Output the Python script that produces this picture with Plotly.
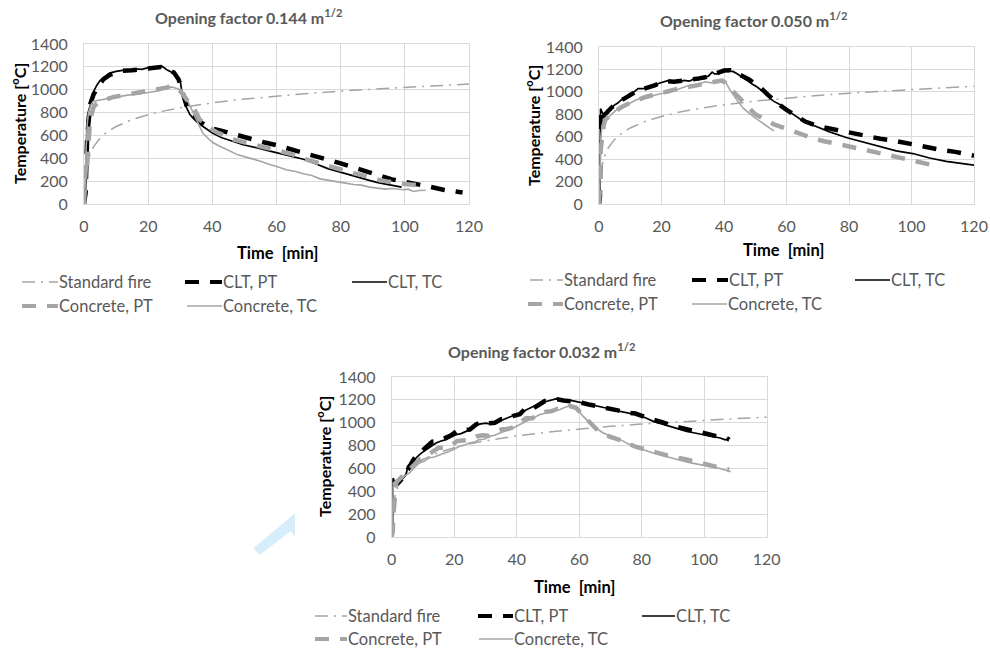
import plotly.graph_objects as go

# ---------------- data ----------------
std_t = [0, 1, 2, 3, 5, 7, 10, 15, 20, 25, 30, 40, 50, 60, 70, 80, 90, 100, 110, 120]
std_T = [20, 349, 445, 502, 576, 626, 678, 739, 781, 815, 842, 885, 918, 945, 968, 988, 1006, 1020, 1035, 1049]

# Opening factor 0.144
a_clt_tc_t = [0, 0.3, 0.45, 0.6, 0.9, 1.2, 1.5, 2, 3, 4, 5, 6.5, 8, 10, 12, 14, 16, 18, 19, 20.5, 22.5, 24.5, 25.8,
              27.8, 29.4, 30, 30.5, 31.5, 33, 35, 37, 40, 43, 46.5, 48, 49.6, 51, 52.8, 55.9, 58, 61, 63, 66, 68.4,
              71, 73.6, 76, 78.8, 81, 84, 87, 89.2, 92, 94.4, 97, 99]
a_clt_tc_T = [0, 130, 60, 400, 700, 790, 830, 870, 985, 1040, 1080, 1115, 1145, 1160, 1170, 1172, 1182, 1178, 1185,
              1195, 1200, 1202, 1175, 1146, 1103, 1073, 985, 870, 782, 723, 680, 621, 580, 548, 530, 519, 510, 500,
              478, 462, 440, 430, 410, 392, 365, 335, 310, 288, 270, 243, 220, 204, 185, 170, 155, 148]
a_clt_pt_t = [0, 0.5, 1, 1.5, 2, 3, 4, 5, 6, 8, 10, 12, 15, 18, 20, 22, 24, 26, 28, 29.5, 30.5, 32, 34, 36, 38, 40,
              43, 46, 50, 53, 56, 60, 65, 68, 72, 76, 80, 84, 88, 92, 96, 100, 104, 108, 112, 116, 118]
a_clt_pt_T = [0, 100, 600, 800, 880, 960, 1010, 1050, 1090, 1130, 1145, 1165, 1170, 1178, 1190, 1195, 1198, 1180,
              1150, 1090, 1000, 860, 770, 720, 690, 660, 640, 615, 580, 565, 540, 515, 475, 455, 420, 395, 355, 320,
              280, 250, 215, 190, 165, 150, 125, 108, 100]
a_con_pt_t = [0, 0.3, 0.6, 0.9, 1.3, 1.8, 2.4, 3, 4, 5, 7, 9, 12, 14, 17, 19.5, 22, 24, 26, 27, 28, 29, 30, 31, 32,
              33, 34, 35, 36, 38, 40, 42, 44, 46.5, 50, 53, 56, 59, 62, 65, 68, 71, 74, 77, 80, 84, 87, 89, 92,
              94.4, 97, 100, 104]
a_con_pt_T = [0, 150, 350, 300, 500, 700, 790, 850, 880, 895, 915, 935, 950, 965, 980, 995, 1005, 1015, 1020, 1035,
              1030, 1015, 990, 955, 920, 885, 850, 800, 740, 690, 650, 620, 595, 565, 540, 520, 500, 475, 455, 435,
              400, 375, 345, 320, 300, 270, 250, 230, 210, 198, 185, 175, 165]
a_con_tc_t = [0, 0.3, 0.6, 1, 1.4, 2, 2.9, 4, 6, 8, 10, 12, 14, 16, 18, 20, 22, 24, 25, 26, 27, 28, 29, 30, 31, 32,
              33, 34, 35, 36, 37, 38.5, 40, 42, 43.5, 45, 46.5, 48, 50.5, 52, 55, 57, 59, 61, 63, 66, 68.4, 71,
              73.6, 76, 78.8, 81, 84, 86.5, 89, 91, 94, 96, 99.5, 101, 102.7, 104.5, 106.5]
a_con_tc_T = [0, 100, 450, 700, 800, 860, 900, 905, 920, 925, 935, 945, 955, 958, 965, 975, 985, 995, 1010, 1005,
              1025, 1020, 1010, 1000, 955, 920, 860, 800, 730, 680, 620, 580, 540, 510, 490, 470, 450, 430, 410,
              400, 375, 355, 340, 320, 300, 285, 265, 250, 220, 210, 195, 185, 170, 165, 148, 140, 130, 135, 125,
              130, 110, 118, 120]

# Opening factor 0.050
b_clt_tc_t = [0, 0.3, 0.5, 0.8, 1.2, 1.6, 2.7, 3.5, 4.8, 6, 6.9, 8, 9.1, 10, 11.2, 12.5, 14.4, 16, 17.6, 19, 20.8,
              22, 24, 25.5, 27.2, 29, 30.4, 32, 33.5, 35, 36.2, 37, 37.8, 38.5, 39.4, 41, 42.1, 43, 44.2, 46, 47.4,
              49, 50.6, 52.7, 54.8, 56, 58, 61, 64.2, 68.5, 73.8, 79.1, 84.5, 89.8, 95.1, 100.4, 105.8, 111.1,
              117.5, 120]
b_clt_tc_T = [0, 50, 850, 830, 790, 780, 820, 840, 880, 900, 924, 940, 969, 985, 999, 1030, 1028, 1040, 1049, 1075,
              1087, 1100, 1087, 1090, 1102, 1095, 1117, 1110, 1132, 1140, 1176, 1160, 1161, 1180, 1191, 1195, 1185,
              1180, 1161, 1130, 1102, 1070, 1043, 999, 939, 915, 885, 821, 761, 702, 643, 593, 554, 516, 474, 450,
              410, 380, 358, 347]
b_clt_pt_t = [0, 0.3, 0.5, 1, 1.5, 2.5, 4, 6, 8, 10, 12, 14, 16, 18, 20, 22, 24, 26, 28, 30, 32, 34, 36, 38, 40,
              42, 44, 46, 48, 50, 52, 54, 56, 58, 60, 63, 66, 70, 74, 78, 82, 86, 90, 94, 98, 102, 106, 110, 114,
              118, 120]
b_clt_pt_T = [0, 60, 840, 800, 790, 815, 860, 905, 940, 975, 1005, 1025, 1040, 1060, 1085, 1095, 1090, 1095, 1100,
              1110, 1120, 1130, 1150, 1175, 1190, 1192, 1170, 1140, 1110, 1070, 1030, 975, 925, 880, 840, 785, 735,
              695, 672, 652, 622, 602, 582, 567, 545, 515, 500, 480, 465, 440, 430]
b_con_pt_t = [0, 0.3, 0.6, 1, 1.5, 2, 3, 4.8, 7, 9, 12, 14.4, 17, 19.7, 22, 25, 28, 30.4, 33, 35.7, 38, 39.4,
              40.5, 42, 44, 46, 48, 50, 52, 54, 56, 58, 60, 64, 68, 72, 76, 80, 84, 88, 92, 96, 100, 104, 107]
b_con_pt_T = [0, 150, 500, 600, 700, 750, 780, 820, 860, 890, 920, 950, 970, 990, 1010, 1025, 1040, 1055, 1070,
              1085, 1095, 1100, 1080, 1030, 970, 910, 850, 800, 770, 735, 710, 690, 670, 625, 590, 560, 540, 510,
              490, 465, 440, 415, 395, 370, 345]
b_con_tc_t = [0, 0.3, 0.6, 1, 1.5, 2.5, 4, 6, 8, 10, 12, 14, 16, 18, 20, 22, 24, 26, 28, 30, 32, 34, 36, 38, 39.5,
              40.5, 42, 44.2, 46.3, 49.5, 52.7, 55.9]
b_con_tc_T = [0, 200, 600, 700, 720, 760, 800, 850, 880, 900, 930, 945, 960, 975, 985, 990, 1010, 1030, 1050,
              1060, 1070, 1090, 1080, 1100, 1105, 1087, 1013, 924, 850, 776, 717, 652]

# Opening factor 0.032
c_clt_tc_t = [0, 0.3, 0.5, 0.85, 1.5, 2.5, 3.5, 4.6, 5.1, 6.7, 8.9, 11, 12.5, 14.2, 15.8, 17.4, 19, 20.6, 22.2,
              23.8, 25.4, 27, 28.6, 30.2, 31.8, 33.4, 35, 36.6, 38.2, 39.8, 41.4, 43, 44.6, 46.2, 47.8, 49.4, 51,
              52.5, 54, 55.8, 57.4, 59, 62.4, 65, 67.7, 70.4, 73.1, 75.7, 78.4, 81, 83.7, 86.4, 89.1, 91.8, 94.4,
              97, 99.7, 102.4, 105.1, 106.7, 108.3]
c_clt_tc_T = [0, 100, 517, 459, 470, 488, 510, 546, 619, 663, 721, 764, 790, 823, 840, 852, 875, 895, 905, 924, 955,
              983, 990, 997, 985, 1012, 1020, 1041, 1055, 1070, 1090, 1113, 1135, 1157, 1175, 1186, 1195, 1209,
              1200, 1192, 1195, 1186, 1163, 1150, 1134, 1118, 1099, 1085, 1070, 1045, 1012, 990, 968, 945, 924, 910,
              895, 880, 866, 850, 866]
c_clt_pt_t = [0, 0.5, 1, 2, 3, 5, 7, 9, 11, 13, 15, 17, 19, 21, 23, 25, 27, 29, 31, 33, 35, 37, 39, 41, 43, 45, 47,
              49, 51, 53, 55, 57, 60, 63, 66, 69, 72, 75, 78, 81, 84, 87, 90, 93, 96, 99, 102, 105, 108]
c_clt_pt_T = [0, 300, 480, 470, 500, 580, 680, 735, 780, 835, 840, 860, 890, 930, 935, 940, 985, 1010, 995, 1000,
              1030, 1030, 1060, 1075, 1130, 1120, 1155, 1190, 1195, 1205, 1195, 1190, 1180, 1160, 1145, 1125, 1110,
              1090, 1080, 1050, 1030, 1000, 970, 955, 930, 915, 895, 870, 855]
c_con_pt_t = [0, 0.3, 0.7, 1, 1.5, 3, 5, 7, 9, 11, 13, 15, 17, 19, 21, 23, 25, 27, 29, 31, 33, 35, 37, 39, 41, 43,
              45, 47, 49, 51, 53, 55, 57, 59, 61, 63, 66, 70, 74, 78, 82, 86, 90, 94, 98, 102, 106, 108]
c_con_pt_T = [0, 50, 250, 330, 480, 520, 570, 630, 680, 710, 740, 780, 780, 800, 840, 845, 850, 880, 890, 885, 920,
              940, 945, 960, 1000, 1040, 1040, 1075, 1095, 1100, 1120, 1120, 1145, 1130, 1070, 1010, 930, 875, 840,
              790, 760, 720, 700, 680, 650, 620, 600, 590]
c_con_tc_t = [0, 0.3, 0.5, 1.4, 3, 4.3, 5.7, 7.3, 8.9, 10.5, 12, 13.6, 15.3, 16.9, 18.5, 20.1, 21.7, 23.3, 24.9,
              26.5, 28, 29.6, 31.3, 32.9, 34.5, 36.1, 37.7, 39.3, 40.9, 42.5, 44, 45.6, 47.3, 48.9, 50.5, 52.1,
              53.7, 55.5, 57.4, 59.2, 61.3, 64.5, 67.7, 70.4, 73.1, 75.7, 78.4, 81, 83.7, 86.4, 89.1, 91.8, 94.4,
              97, 99.7, 102.4, 105.1, 108.5]
c_con_tc_T = [0, 150, 474, 488, 517, 540, 561, 610, 648, 665, 692, 700, 715, 735, 750, 770, 794, 805, 823, 830, 852,
              855, 881, 890, 910, 925, 939, 960, 983, 1000, 1026, 1045, 1070, 1080, 1099, 1105, 1113, 1135, 1151,
              1128, 1055, 968, 910, 880, 852, 815, 785, 760, 735, 715, 692, 675, 657, 642, 628, 612, 599, 570]

titles = ["Opening factor 0.144 m<sup>1/2</sup>", "Opening factor 0.050 m<sup>1/2</sup>",
          "Opening factor 0.032 m<sup>1/2</sup>"]
series_names = ["Standard fire", "CLT, PT", "CLT, TC", "Concrete, PT", "Concrete, TC"]
x_ticks = [0, 20, 40, 60, 80, 100, 120]
y_ticks = [0, 200, 400, 600, 800, 1000, 1200, 1400]

# ---------------- styling ----------------
W, H = 990, 649
FONT = "Lato"
GREY = "#a5a5a5"
TXT = "#595959"


def px(x):
    return x / W


def py(y):
    return 1 - y / H


styles = {
    "Standard fire": dict(color=GREY, width=1.5, dash="13px,6px,2px,6px"),
    "CLT, PT": dict(color="black", width=4.5, dash="14px,11px"),
    "CLT, TC": dict(color="black", width=1.7, dash="solid"),
    "Concrete, PT": dict(color=GREY, width=4.5, dash="14px,11px"),
    "Concrete, TC": dict(color=GREY, width=1.6, dash="solid"),
}

charts = [
    dict(data=[(std_t, std_T), (a_clt_pt_t, a_clt_pt_T), (a_clt_tc_t, a_clt_tc_T),
               (a_con_pt_t, a_con_pt_T), (a_con_tc_t, a_con_tc_T)],
         xdom=(84, 469), ydom=(44, 204), title=(248, 17), xt=(277, 253), yt=(18, 124),
         leg=[(22, 58, 185, 222, 352, 387, 282), (22, 58, 187, 222, None, None, 306)]),
    dict(data=[(std_t, std_T), (b_clt_pt_t, b_clt_pt_T), (b_clt_tc_t, b_clt_tc_T),
               (b_con_pt_t, b_con_pt_T), (b_con_tc_t, b_con_tc_T)],
         xdom=(599, 974), ydom=(47, 204), title=(753, 20), xt=(783, 250), yt=(532, 126),
         leg=[(530, 563, 692, 728, 855, 890, 280), (528, 563, 692, 727, None, None, 304)]),
    dict(data=[(std_t, std_T), (c_clt_pt_t, c_clt_pt_T), (c_clt_tc_t, c_clt_tc_T),
               (c_con_pt_t, c_con_pt_T), (c_con_tc_t, c_con_tc_T)],
         xdom=(391.7, 766.7), ydom=(377, 537), title=(541, 350), xt=(574, 587), yt=(323, 457),
         leg=[(315, 347, 478, 513, 642, 675, 616), (315, 347, 479, 513, None, None, 639)]),
]

fig = go.Figure()
annotations = []
shapes = []

for i, ch in enumerate(charts):
    sfx = "" if i == 0 else str(i + 1)
    for name, (tx, ty) in zip(series_names, ch["data"]):
        st = styles[name]
        fig.add_trace(go.Scatter(x=tx, y=ty, mode="lines", name=name, showlegend=False,
                                 line=dict(color=st["color"], width=st["width"], dash=st["dash"]),
                                 xaxis="x" + sfx, yaxis="y" + sfx, hoverinfo="skip"))
    axcommon = dict(showgrid=True, gridcolor="#d9d9d9", gridwidth=1, showline=True, linecolor="#d9d9d9",
                    linewidth=1, mirror=True, zeroline=False, ticks="",
                    tickfont=dict(family=FONT, size=16, color=TXT))
    fig.update_layout(**{
        "xaxis" + sfx: dict(domain=[px(ch["xdom"][0]), px(ch["xdom"][1])], range=[0, 120],
                            tickvals=x_ticks, anchor="y" + sfx, ticklabelstandoff=8, **axcommon),
        "yaxis" + sfx: dict(domain=[py(ch["ydom"][1]), py(ch["ydom"][0])], range=[0, 1400],
                            tickvals=y_ticks, anchor="x" + sfx, ticklabelstandoff=12, **axcommon),
    })
    annotations.append(dict(text="<b>" + titles[i] + "</b>", x=px(ch["title"][0]), y=py(ch["title"][1]),
                            xref="paper", yref="paper", showarrow=False, xanchor="center", yanchor="middle",
                            font=dict(family=FONT, size=16, color=TXT)))
    annotations.append(dict(text="<b>Time \u00a0[min]</b>", x=px(ch["xt"][0]), y=py(ch["xt"][1]),
                            xref="paper", yref="paper", showarrow=False, xanchor="center", yanchor="middle",
                            font=dict(family=FONT, size=16.5, color="black")))
    annotations.append(dict(text="<b>Temperature [<sup>o</sup>C]</b>", x=px(ch["yt"][0]), y=py(ch["yt"][1]),
                            xref="paper", yref="paper", showarrow=False, xanchor="center", yanchor="middle",
                            textangle=-90, font=dict(family=FONT, size=16, color="black")))
    # legend (two rows, three columns)
    names_rows = [series_names[:3], series_names[3:]]
    for row, names in zip(ch["leg"], names_rows):
        yy = row[6]
        for k, name in enumerate(names):
            x0, x1 = row[2 * k], row[2 * k + 1]
            st = styles[name]
            shapes.append(dict(type="line", xref="paper", yref="paper", x0=px(x0), x1=px(x1),
                               y0=py(yy), y1=py(yy),
                               line=dict(color=st["color"], width=st["width"] if st["width"] < 3 else 4,
                                         dash=st["dash"])))
            annotations.append(dict(text=name, x=px(x1 - 1), y=py(yy), xref="paper", yref="paper",
                                    showarrow=False, xanchor="left", yanchor="middle",
                                    font=dict(family=FONT, size=16.5, color=TXT)))

# light-blue arrow mark left of the third chart
arrow = [(253.3, 548.3), (295, 513.3), (295, 536.7), (290.7, 531), (260, 555)]
path = "M " + " L ".join(f"{px(a):.5f},{py(b):.5f}" for a, b in arrow) + " Z"
shapes.append(dict(type="path", path=path, xref="paper", yref="paper", fillcolor="#d6eefa",
                   line=dict(width=0), layer="below"))

fig.update_layout(width=W, height=H, margin=dict(l=0, r=0, t=0, b=0, autoexpand=False),
                  paper_bgcolor="white", plot_bgcolor="white", showlegend=False,
                  annotations=annotations, shapes=shapes, font=dict(family=FONT))

fig.write_html("out.html", config={"displayModeBar": False},
               post_script="document.body.style.margin='0px';")
